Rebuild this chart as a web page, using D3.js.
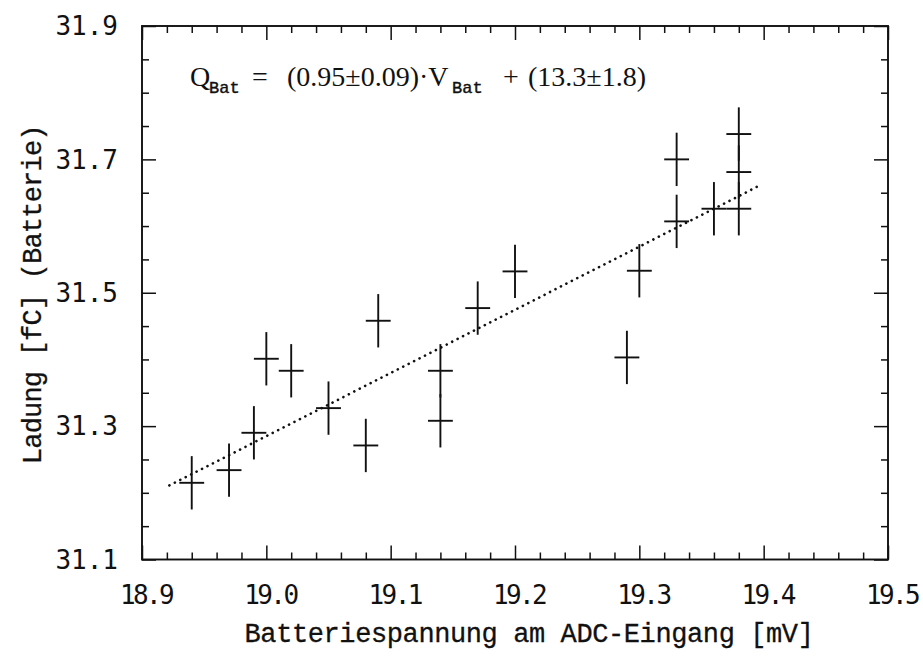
<!DOCTYPE html>
<html><head><meta charset="utf-8">
<script src="https://cdn.jsdelivr.net/npm/d3@7"></script>
<style>body{margin:0;background:#fff}</style>
</head><body>
<svg id="chart" width="923" height="658"></svg>
<script>
// ---- data ----
const voltage   = [18.94, 18.97, 18.99, 19.00, 19.02, 19.05, 19.08, 19.09, 19.14, 19.14, 19.17, 19.20, 19.29, 19.30, 19.33, 19.33, 19.36, 19.38, 19.38, 19.38];
const charge    = [31.215, 31.234, 31.290, 31.401, 31.383, 31.327, 31.271, 31.458, 31.383, 31.308, 31.477, 31.532, 31.403, 31.533, 31.700, 31.607, 31.626, 31.738, 31.681, 31.626];
const voltageErr= [0.01, 0.01, 0.01, 0.01, 0.01, 0.01, 0.01, 0.01, 0.01, 0.01, 0.01, 0.01, 0.01, 0.01, 0.01, 0.01, 0.01, 0.01, 0.01, 0.01];
const chargeErr = [0.04, 0.04, 0.04, 0.04, 0.04, 0.04, 0.04, 0.04, 0.04, 0.04, 0.04, 0.04, 0.04, 0.04, 0.04, 0.04, 0.04, 0.04, 0.04, 0.04];
const fitV = [18.922, 19.398];
const fitQ = [31.211, 31.662];
const xTickLabels = ["18.9", "19.0", "19.1", "19.2", "19.3", "19.4", "19.5"];
const yTickLabels = ["31.1", "31.3", "31.5", "31.7", "31.9"];
const xTitle = "Batteriespannung am ADC-Eingang [mV]";
const yTitle = "Ladung [fC] (Batterie)";

const svg = d3.select("#chart");
const L = 142, R = 888, T = 26, B = 559.5;
const x = d3.scaleLinear().domain([18.9, 19.5]).range([L, R]);
const y = d3.scaleLinear().domain([31.1, 31.9]).range([B, T]);

const xMajor = xTickLabels.map(Number);
const yMajor = yTickLabels.map(Number);
const xMinor = d3.range(0, 31).map(i => 18.9 + i * 0.02).filter(v => !xMajor.some(m => Math.abs(m - v) < 1e-6));
const yMinor = d3.range(0, 17).map(i => 31.1 + i * 0.05).filter(v => !yMajor.some(m => Math.abs(m - v) < 1e-6));

const ink = "#111";
const majLen = 14, minLen = 7;

function axisG(gen, tr) {
  const g = svg.append("g").attr("transform", tr).call(gen);
  g.select(".domain").remove();
  g.selectAll("line").attr("stroke", ink).attr("stroke-width", 1.5);
  return g;
}
// bottom
axisG(d3.axisTop(x).tickValues(xMajor).tickSize(majLen).tickFormat(""), `translate(0,${B})`);
axisG(d3.axisTop(x).tickValues(xMinor).tickSize(minLen).tickFormat(""), `translate(0,${B})`);
// top
axisG(d3.axisBottom(x).tickValues(xMajor).tickSize(majLen).tickFormat(""), `translate(0,${T})`);
axisG(d3.axisBottom(x).tickValues(xMinor).tickSize(minLen).tickFormat(""), `translate(0,${T})`);
// left
axisG(d3.axisRight(y).tickValues(yMajor).tickSize(majLen).tickFormat(""), `translate(${L},0)`);
axisG(d3.axisRight(y).tickValues(yMinor).tickSize(minLen).tickFormat(""), `translate(${L},0)`);
// right
axisG(d3.axisLeft(y).tickValues(yMajor).tickSize(majLen).tickFormat(""), `translate(${R},0)`);
axisG(d3.axisLeft(y).tickValues(yMinor).tickSize(minLen).tickFormat(""), `translate(${R},0)`);

// frame
svg.append("rect").attr("x", L).attr("y", T).attr("width", R - L).attr("height", B - T)
  .attr("fill", "none").attr("stroke", ink).attr("stroke-width", 1.9);

// tick labels
const tickFont = "'DejaVu Sans Mono', monospace";
svg.append("g").selectAll("text").data(xTickLabels).join("text")
  .attr("x", d => x(+d) + 4).attr("y", B + 44)
  .attr("text-anchor", "middle").attr("font-family", tickFont).attr("font-size", 26)
  .attr("letter-spacing", -2.6)
  .attr("fill", ink).text(d => d);
svg.append("g").selectAll("text").data(yTickLabels).join("text")
  .attr("x", L - 24).attr("y", d => y(+d)).attr("dy", "0.36em")
  .attr("text-anchor", "end").attr("font-family", tickFont).attr("font-size", 26)
  .attr("fill", ink).text(d => d);

// axis titles
const titleFont = "'Liberation Mono', 'Courier New', monospace";
svg.append("text").attr("x", (L + R) / 2 + 14).attr("y", 642)
  .attr("text-anchor", "middle").attr("font-family", titleFont).attr("font-size", 27)
  .attr("letter-spacing", -0.4)
  .attr("fill", ink).attr("stroke", ink).attr("stroke-width", 0.3).text(xTitle);
svg.append("text").attr("transform", `translate(41,${(T + B) / 2 + 2}) rotate(-90)`)
  .attr("text-anchor", "middle").attr("font-family", titleFont).attr("font-size", 27)
  .attr("letter-spacing", -0.8)
  .attr("fill", ink).attr("stroke", ink).attr("stroke-width", 0.3).text(yTitle);

// fit line (dotted)
const line = d3.line().x(d => x(d[0])).y(d => y(d[1]));
svg.append("path").datum(d3.zip(fitV, fitQ)).attr("d", line)
  .attr("fill", "none").attr("stroke", ink).attr("stroke-width", 2.6)
  .attr("stroke-linecap", "round").attr("stroke-dasharray", "0.1,6");

// error crosses
const pts = voltage.map((v, i) => ({v, q: charge[i], ev: voltageErr[i], eq: chargeErr[i]}));
const g = svg.append("g").attr("stroke", ink).attr("stroke-width", 1.9);
g.selectAll("line.h").data(pts).join("line").attr("class", "h")
  .attr("x1", d => x(d.v - d.ev)).attr("x2", d => x(d.v + d.ev))
  .attr("y1", d => y(d.q)).attr("y2", d => y(d.q));
g.selectAll("line.v").data(pts).join("line").attr("class", "v")
  .attr("x1", d => x(d.v)).attr("x2", d => x(d.v))
  .attr("y1", d => y(d.q - d.eq)).attr("y2", d => y(d.q + d.eq));

// equation
const serif = "'Liberation Serif', serif";
const mono = "'Liberation Mono', monospace";
const eqG = svg.append("g").attr("fill", ink);
const base = 86;
function eqText(str, xpos, opts = {}) {
  return eqG.append("text").attr("x", xpos).attr("y", base + (opts.dy || 0))
    .attr("font-family", opts.font || serif).attr("font-size", opts.size || 28)
    .attr("stroke", opts.stroke ? ink : null).attr("stroke-width", opts.stroke || null)
    .text(str);
}
eqText("Q", 190);
eqText("Bat", 209, {dy: 7, font: mono, size: 17, stroke: 0.4});
eqText("=", 252);
eqText("(0.95\u00b10.09)\u00b7V", 287);
eqText("Bat", 452, {dy: 7, font: mono, size: 17, stroke: 0.4});
eqText("+", 503);
eqText("(13.3\u00b11.8)", 528);
</script>
</body></html>
